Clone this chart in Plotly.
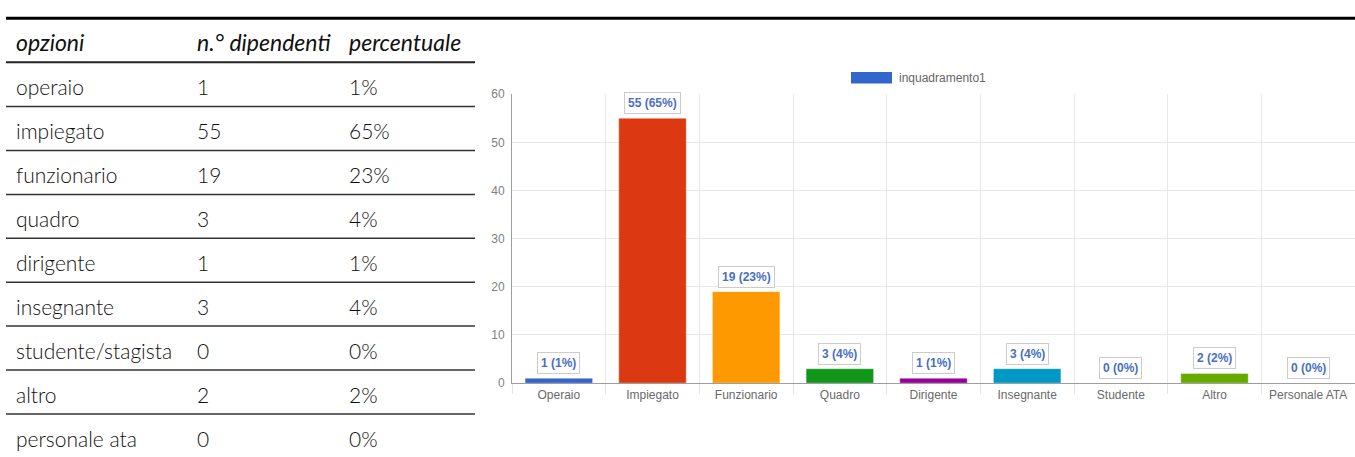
import plotly.graph_objects as go

W, H = 1355, 457

# tabella a sinistra
intestazioni = ["opzioni", "n.° dipendenti", "percentuale"]
opzioni = ["operaio", "impiegato", "funzionario", "quadro", "dirigente",
           "insegnante", "studente/stagista", "altro", "personale ata"]
dipendenti = [1, 55, 19, 3, 1, 3, 0, 2, 0]
percentuali_tab = ["1%", "65%", "23%", "4%", "1%", "4%", "0%", "2%", "0%"]

# grafico a destra
categorie = ["Operaio", "Impiegato", "Funzionario", "Quadro", "Dirigente",
             "Insegnante", "Studente", "Altro", "Personale ATA"]
valori = [1, 55, 19, 3, 1, 3, 0, 2, 0]
percentuali = [1, 65, 23, 4, 1, 4, 0, 2, 0]
colori = ["#3366cc", "#dc3912", "#ff9900", "#109618", "#990099",
          "#0099c6", "#dd4477", "#66aa00", "#b82e2e"]
nome_serie = "inquadramento1"


def px(x):
    return x / W


def py(y):
    return 1 - y / H


fig = go.Figure()

fig.add_trace(go.Bar(
    x=categorie, y=valori,
    marker=dict(color=colori, line=dict(color="rgba(255,255,255,0.35)", width=1)),
    width=0.72,
    showlegend=False,
    hoverinfo="x+y",
))

# etichette sopra le barre
for c, v, p in zip(categorie, valori, percentuali):
    fig.add_annotation(
        x=c, y=v, xref="x", yref="y",
        text=f"<b>{v} ({p}%)</b>",
        showarrow=False, yanchor="bottom", yshift=4,
        font=dict(family="Liberation Sans, Arial", size=12, color="#4a6fc4"),
        bgcolor="white", bordercolor="#cccccc", borderwidth=1, borderpad=3,
    )

# legenda disegnata a mano (rettangolo largo come nell'originale)
fig.add_shape(type="rect", xref="paper", yref="paper",
              x0=px(851), x1=px(892), y0=py(79), y1=py(67),
              fillcolor="#3366cc", line=dict(width=0))
fig.add_annotation(xref="paper", yref="paper", x=px(897), y=py(73),
                   text=nome_serie, showarrow=False, xanchor="left", yanchor="middle",
                   font=dict(family="Liberation Sans, Arial", size=12, color="#666666"))

# --- tabella ---
font_tab = "Lato, Open Sans, sans-serif"
col_x = [14, 195, 347]
fig.add_shape(type="line", xref="paper", yref="paper",
              x0=px(6), x1=1, y0=py(11.5), y1=py(11.5),
              line=dict(color="black", width=3))
for t, cx in zip(intestazioni, col_x):
    fig.add_annotation(xref="paper", yref="paper", x=px(cx), y=py(36),
                       text=f"<i>{t}</i>", showarrow=False,
                       xanchor="left", yanchor="middle",
                       font=dict(family=font_tab, size=23, color="#111111"))
fig.add_shape(type="line", xref="paper", yref="paper",
              x0=px(6), x1=px(475), y0=py(57), y1=py(57),
              line=dict(color="#222222", width=2))

passo = 45.3
for i, (o, d, pc) in enumerate(zip(opzioni, dipendenti, percentuali_tab)):
    yc = 82.5 + i * passo
    for t, cx in zip([o, str(d), pc], col_x):
        fig.add_annotation(xref="paper", yref="paper", x=px(cx), y=py(yc),
                           text=t, showarrow=False,
                           xanchor="left", yanchor="middle",
                           font=dict(family=font_tab, size=21, color="#111111",
                                     weight=300))
    if i < len(opzioni) - 1:
        yl = 102.7 + i * passo
        fig.add_shape(type="line", xref="paper", yref="paper",
                      x0=px(6), x1=px(475), y0=py(yl), y1=py(yl),
                      line=dict(color="#333333", width=1.5))

fig.update_layout(
    width=W, height=H,
    margin=dict(l=0, r=0, t=0, b=0),
    paper_bgcolor="white", plot_bgcolor="white",
    xaxis=dict(
        domain=[px(512), 1],
        type="category",
        range=[-0.5, 8.5],
        tickson="boundaries",
        ticks="outside", ticklen=10, tickcolor="#e3e3e3", tickwidth=1,
        showgrid=True, gridcolor="#e8e8e8",
        showline=True, linecolor="#9e9e9e", linewidth=1,
        tickfont=dict(family="Liberation Sans, Arial", size=12, color="#6a6a6a"),
        fixedrange=True,
    ),
    yaxis=dict(
        domain=[py(388), py(90)],
        range=[0, 60],
        dtick=10,
        showgrid=True, gridcolor="#e8e8e8",
        showline=True, linecolor="#9e9e9e", linewidth=1,
        zeroline=False,
        ticks="",
        tickfont=dict(family="Liberation Sans, Arial", size=12, color="#808080"),
        ticklabelstandoff=4,
        fixedrange=True,
    ),
)

fig.write_html("out.html", config={"displayModeBar": False},
               post_script="document.body.style.margin='0';document.body.style.overflow='hidden';")
